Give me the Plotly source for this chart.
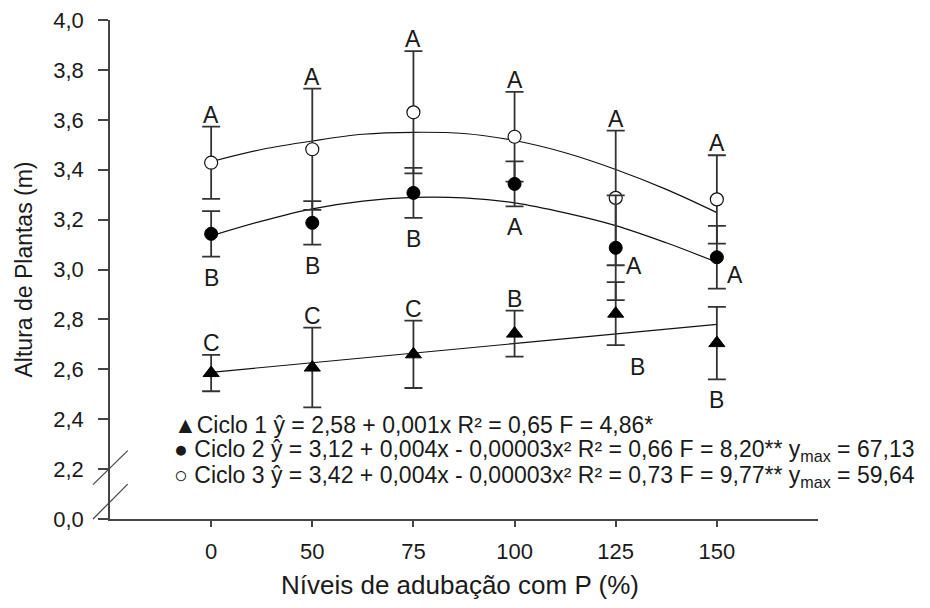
import plotly.graph_objects as go

# Adubação com P (%) - categorias igualmente espaçadas
niveis = ["0", "50", "75", "100", "125", "150"]
pos = [0, 1, 2, 3, 4, 5]

# Médias e erros (altura de plantas, m)
ciclo1 = [2.585, 2.607, 2.660, 2.743, 2.823, 2.705]
ciclo1_err = [0.073, 0.160, 0.135, 0.092, 0.126, 0.145]
ciclo2 = [3.143, 3.187, 3.307, 3.343, 3.087, 3.049]
ciclo2_err = [0.091, 0.087, 0.100, 0.090, 0.210, 0.126]
ciclo3 = [3.428, 3.482, 3.630, 3.532, 3.287, 3.281]
ciclo3_err = [0.145, 0.243, 0.245, 0.180, 0.270, 0.177]

# Letras de comparação de médias
letras1 = ["C", "C", "C", "B", "B", "B"]
letras2 = ["B", "B", "B", "A", "A", "A"]
letras3 = ["A", "A", "A", "A", "A", "A"]

# Curvas ajustadas
curva_x = [0, 0.5, 1, 1.5, 2, 2.5, 3, 3.5, 4, 4.5, 5]
curva2 = [3.135, 3.194, 3.243, 3.274, 3.289, 3.287, 3.267, 3.227, 3.176, 3.107, 3.029]
curva3 = [3.432, 3.481, 3.515, 3.542, 3.550, 3.545, 3.517, 3.468, 3.401, 3.321, 3.228]
reta1_x = [0, 5]
reta1 = [2.588, 2.780]

# Eixo y quebrado: 2,0 no eixo é exibido como 0,0
y_ticks = [2.0, 2.2, 2.4, 2.6, 2.8, 3.0, 3.2, 3.4, 3.6, 3.8, 4.0]
y_labels = ["0,0", "2,2", "2,4", "2,6", "2,8", "3,0", "3,2", "3,4", "3,6", "3,8", "4,0"]

legenda = [
    "▲Ciclo 1 ŷ = 2,58 + 0,001x R² = 0,65 F = 4,86*",
    "● Ciclo 2 ŷ = 3,12 + 0,004x - 0,00003x² R² = 0,66 F = 8,20** y<sub>max</sub> = 67,13",
    "○ Ciclo 3 ŷ = 3,42 + 0,004x - 0,00003x² R² = 0,73 F = 9,77** y<sub>max</sub> = 59,64",
]

FONT = "Liberation Sans, Arial, sans-serif"
INK = "#1a1a1a"
BAR = "#333333"

fig = go.Figure()

line = dict(color="#111111", width=1.2)
fig.add_trace(go.Scatter(x=reta1_x, y=reta1, mode="lines", line=line, hoverinfo="skip"))
fig.add_trace(go.Scatter(x=curva_x, y=curva2, mode="lines", line=dict(line, shape="spline"), hoverinfo="skip"))
fig.add_trace(go.Scatter(x=curva_x, y=curva3, mode="lines", line=dict(line, shape="spline"), hoverinfo="skip"))


def err(vals):
    return dict(type="data", array=vals, color=BAR, thickness=1.8, width=9)


fig.add_trace(go.Scatter(
    x=pos, y=ciclo3, mode="markers", error_y=err(ciclo3_err),
    marker=dict(symbol="circle", size=13, color="white", line=dict(color="#111111", width=1.2)),
))
fig.add_trace(go.Scatter(
    x=pos, y=ciclo2, mode="markers", error_y=err(ciclo2_err),
    marker=dict(symbol="circle", size=13, color="black", line=dict(color="black", width=1)),
))
fig.add_trace(go.Scatter(
    x=pos, y=ciclo1, mode="markers", error_y=err(ciclo1_err),
    marker=dict(symbol="triangle-up", size=14, color="black", line=dict(color="black", width=1)),
))

# Posição das letras: acima, abaixo, à direita ou abaixo-direita da barra
lugar1 = ["up", "up", "up", "up", "downright", "down"]
lugar2 = ["down", "down", "down", "down", "right", "right"]
lugar3 = ["up"] * 6

letter_font = dict(family=FONT, size=23, color=INK)
for medias, erros, letras, lugares in [
    (ciclo1, ciclo1_err, letras1, lugar1),
    (ciclo2, ciclo2_err, letras2, lugar2),
    (ciclo3, ciclo3_err, letras3, lugar3),
]:
    for p, m, e, txt, lugar in zip(pos, medias, erros, letras, lugares):
        if lugar == "up":
            y, xs, ys = m + e, 0, 12
        elif lugar == "down":
            y, xs, ys = m - e, 0, -21
        elif lugar == "right":
            y, xs, ys = m, 18, -18
        else:
            y, xs, ys = m - e, 22, -22
        fig.add_annotation(x=p, y=y, text=txt, showarrow=False, xshift=xs, yshift=ys,
                           font=letter_font, xref="x", yref="y")

for i, txt in enumerate(legenda):
    fig.add_annotation(x=0.087, y=[0.189, 0.137, 0.085][i], xref="paper", yref="paper",
                       text=txt, showarrow=False, xanchor="left", yanchor="middle",
                       font=dict(family=FONT, size=23, color=INK))

# Título do eixo x como anotação (posição fixa)
fig.add_annotation(x=0.495, y=-0.133, xref="paper", yref="paper", showarrow=False,
                   text="Níveis de adubação com P (%)", yanchor="middle",
                   font=dict(family=FONT, size=26, color=INK))

# Marcas de quebra do eixo y
for y0, y1 in [(0.069, 0.137), (0.0, 0.070)]:
    fig.add_shape(type="line", xref="paper", yref="paper", x0=-0.024, x1=0.025,
                  y0=y0, y1=y1, line=dict(color="#444444", width=1.2))

# a página tem 8 px de margem no body: figura menor para caber sem barras de rolagem
fig.update_layout(
    width=914, height=592,
    margin=dict(l=102, r=104, t=12, b=81),
    paper_bgcolor="white", plot_bgcolor="white",
    showlegend=False,
    font=dict(family=FONT, size=22, color=INK),
)
fig.update_xaxes(
    range=[-1, 6], tickvals=pos, ticktext=niveis, automargin=False,
    showline=True, linecolor="#444444", linewidth=1.5, showgrid=False, zeroline=False,
    ticks="outside", ticklen=6, tickcolor="#444444", tickwidth=1.5,
    tickfont=dict(family=FONT, size=22, color=INK), ticklabelstandoff=6,
    ticklabeloverflow="allow",
)
fig.update_yaxes(
    range=[2.0, 4.0], tickvals=y_ticks, ticktext=y_labels, automargin=False,
    showline=True, linecolor="#444444", linewidth=1.5, showgrid=False, zeroline=False,
    ticks="outside", ticklen=10, tickcolor="#444444", tickwidth=1.5,
    tickfont=dict(family=FONT, size=22, color=INK), ticklabelstandoff=10,
    ticklabeloverflow="allow",
    title=dict(text="Altura de Plantas (m)", font=dict(family=FONT, size=23, color=INK), standoff=14),
)

fig.write_html("out.html")
